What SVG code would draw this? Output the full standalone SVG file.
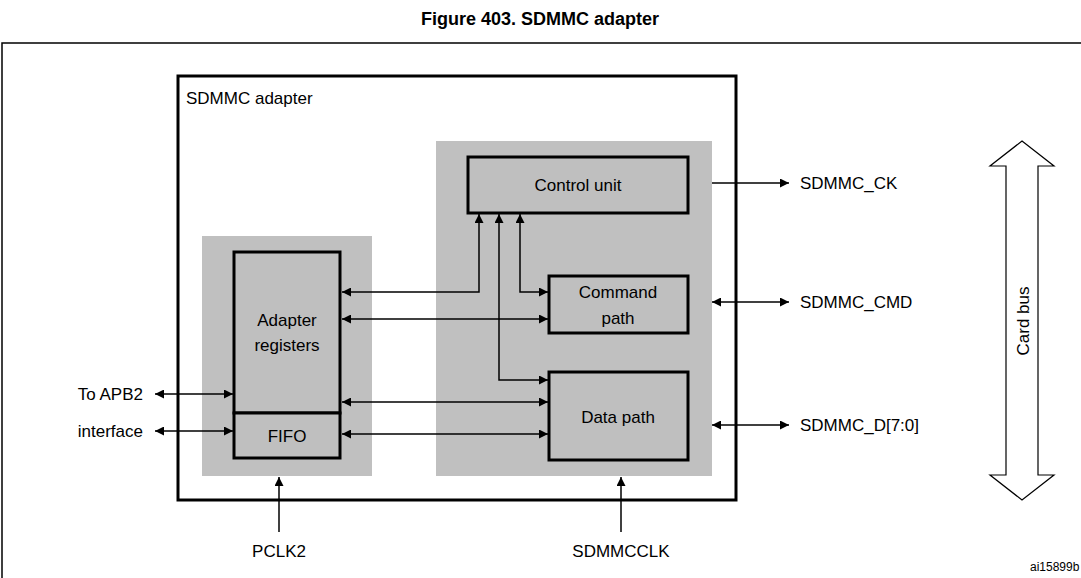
<svg xmlns="http://www.w3.org/2000/svg" width="1081" height="578" viewBox="0 0 1081 578">
<style>
text{font-family:"Liberation Sans",Arial,sans-serif;font-size:17px;fill:#000}
.box{fill:#bfbfbf;stroke:#000;stroke-width:3}
.gray{fill:#c0c0c0}
.ln{fill:none;stroke:#000;stroke-width:1.5}
.m{text-anchor:middle}
</style>
<defs>
<marker id="ah" viewBox="0 0 10 10" refX="10" refY="5" markerWidth="13" markerHeight="9" markerUnits="userSpaceOnUse" orient="auto-start-reverse"><path d="M0,0L10,5L0,10z" fill="#000"/></marker>
</defs>
<rect width="1081" height="578" fill="#fff"/>
<text x="540" y="25" class="m" style="font-weight:bold;font-size:18px">Figure 403. SDMMC adapter</text>
<rect x="2" y="43" width="1090" height="540" fill="none" stroke="#000" stroke-width="1.5"/>
<g id="adapter"><rect x="178" y="76" width="558" height="424" fill="none" stroke="#000" stroke-width="3"/><text x="186" y="104">SDMMC adapter</text></g>
<rect class="gray" x="202" y="236" width="170" height="240"/>
<rect class="gray" x="436" y="141" width="276" height="335"/>
<g id="control"><rect class="box" x="468" y="157" width="220" height="56"/><text x="578" y="191" class="m">Control unit</text></g>
<g id="regs"><rect class="box" x="234" y="252" width="106" height="161"/><text x="287" y="326" class="m">Adapter</text><text x="287" y="351" class="m">registers</text></g>
<g id="fifo"><rect class="box" x="234" y="413" width="106" height="45"/><text x="287" y="442" class="m">FIFO</text></g>
<g id="cmd"><rect class="box" x="549" y="276" width="139" height="57"/><text x="618" y="298" class="m">Command</text><text x="618" y="324" class="m">path</text></g>
<g id="data"><rect class="box" x="549" y="372" width="139" height="88"/><text x="618" y="423" class="m">Data path</text></g>
<g id="connectors">
<path class="ln" d="M342,292H479V214" marker-start="url(#ah)" marker-end="url(#ah)"/>
<path class="ln" d="M499,214V380H548" marker-start="url(#ah)" marker-end="url(#ah)"/>
<path class="ln" d="M520,214V292H548" marker-start="url(#ah)" marker-end="url(#ah)"/>
<path class="ln" d="M342,319H548" marker-start="url(#ah)" marker-end="url(#ah)"/>
<path class="ln" d="M342,402H548" marker-start="url(#ah)" marker-end="url(#ah)"/>
<path class="ln" d="M342,434H548" marker-start="url(#ah)" marker-end="url(#ah)"/>
<path class="ln" d="M155,394H233" marker-start="url(#ah)" marker-end="url(#ah)"/>
<path class="ln" d="M155,431H233" marker-start="url(#ah)" marker-end="url(#ah)"/>
<path class="ln" d="M712,183H789" marker-end="url(#ah)"/>
<path class="ln" d="M712,302H789" marker-start="url(#ah)" marker-end="url(#ah)"/>
<path class="ln" d="M712,425H789" marker-start="url(#ah)" marker-end="url(#ah)"/>
<path class="ln" d="M279,532V477" marker-end="url(#ah)"/>
<path class="ln" d="M621,532V477" marker-end="url(#ah)"/>
</g>
<text x="143" y="400" style="text-anchor:end">To APB2</text>
<text x="143" y="437" style="text-anchor:end">interface</text>
<text x="800" y="189">SDMMC_CK</text>
<text x="800" y="308">SDMMC_CMD</text>
<text x="800" y="431">SDMMC_D[7:0]</text>
<text x="279" y="557" class="m">PCLK2</text>
<text x="621" y="557" class="m">SDMMCCLK</text>
<g id="cardbus"><path d="M1022,141L1054,166H1038V475H1054L1022,500L990,475H1006V166H990Z" fill="#fff" stroke="#000" stroke-width="1.2"/>
<text transform="translate(1029,321) rotate(-90)" class="m">Card bus</text></g>
<text x="1030" y="571" style="font-size:12px">ai15899b</text>
</svg>
